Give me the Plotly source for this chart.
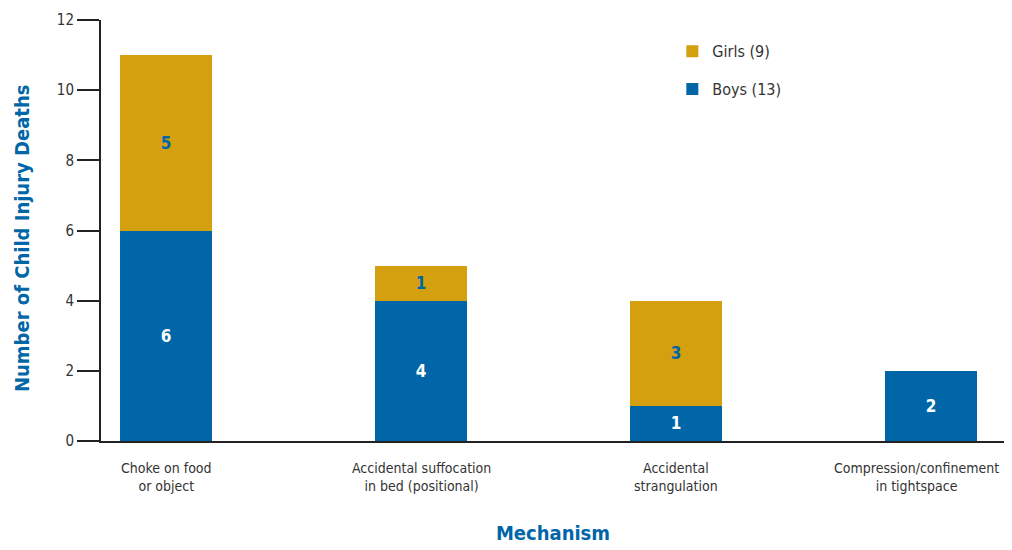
import plotly.graph_objects as go

categories = ["Choke on food", "Accidental suffocation", "Accidental strangulation",
              "Compression/confinement"]
tick_labels = ["Choke on food<br>or object", "Accidental suffocation<br>in bed (positional)",
               "Accidental<br>strangulation",
               "Compression/confinement<br>in tightspace"]
boys = [6, 4, 1, 2]
girls = [5, 1, 3, 0]
boys_name = "Boys (13)"
girls_name = "Girls (9)"
y_ticks = [0, 2, 4, 6, 8, 10, 12]
y_title = "Number of Child Injury Deaths"
x_title = "Mechanism"

BLUE = "#0066A8"
GOLD = "#D4A010"
FONT = "Liberation Sans Narrow, Arial Narrow, DejaVu Sans Condensed, sans-serif"

fig = go.Figure()
fig.add_trace(go.Bar(
    x=categories, y=boys, name=boys_name, marker=dict(color=BLUE, line=dict(width=0)),
    width=0.36, text=[str(v) if v else "" for v in boys], textposition="inside",
    insidetextanchor="middle", textangle=0,
    textfont=dict(color="white", size=17, family=FONT, weight="bold"),
    legendgroup="b", legendrank=2,
))
fig.add_trace(go.Bar(
    x=categories, y=girls, name=girls_name, marker=dict(color=GOLD, line=dict(width=0)),
    width=0.36, text=[str(v) if v else "" for v in girls], textposition="inside",
    insidetextanchor="middle", textangle=0,
    textfont=dict(color=BLUE, size=17, family=FONT, weight="bold"),
    legendgroup="g", legendrank=1,
))

annotations = [dict(
    text=y_title, xref="paper", yref="paper", x=0, y=0.482, xshift=-79,
    xanchor="center", yanchor="middle", textangle=-90, showarrow=False,
    font=dict(size=20, color=BLUE, family=FONT, weight="bold"),
)]
n = len(categories)
for i, (cat, lab) in enumerate(zip(categories, tick_labels)):
    last = i == n - 1
    annotations.append(dict(
        text=lab, x=cat, xref="x", y=0, yref="paper", yanchor="top", yshift=-17,
        xanchor="right" if last else "center", xshift=70 if last else 0,
        align="center", showarrow=False,
        font=dict(size=14, color="#333333", family=FONT),
    ))

fig.update_layout(
    barmode="stack",
    width=1004, height=542,
    margin=dict(l=93, r=7, t=12, b=109, autoexpand=False),
    plot_bgcolor="white", paper_bgcolor="white",
    font=dict(family=FONT, color="#333333", size=15),
    uniformtext=dict(mode="show", minsize=10),
    showlegend=True,
    legend=dict(x=0.632, y=0.966, xanchor="left", yanchor="top",
                font=dict(size=16, color="#333333"),
                tracegroupgap=14, bgcolor="rgba(0,0,0,0)",
                itemwidth=30),
    xaxis=dict(
        range=[-0.255, 3.29], showline=True, linecolor="#222222", linewidth=2,
        ticks="", showgrid=False, showticklabels=False,
        automargin=False,
        title=dict(text=x_title, font=dict(size=20, color=BLUE, weight="bold"), standoff=84),
    ),
    yaxis=dict(
        range=[0, 12], tickvals=y_ticks, showline=True, linecolor="#222222", linewidth=2,
        ticks="outside", ticklen=22, tickwidth=2, tickcolor="#222222",
        showgrid=False, zeroline=False, tickfont=dict(size=15, color="#333333"),
        automargin=False,
    ),
    annotations=annotations,
)

fig.write_html("out.html")
